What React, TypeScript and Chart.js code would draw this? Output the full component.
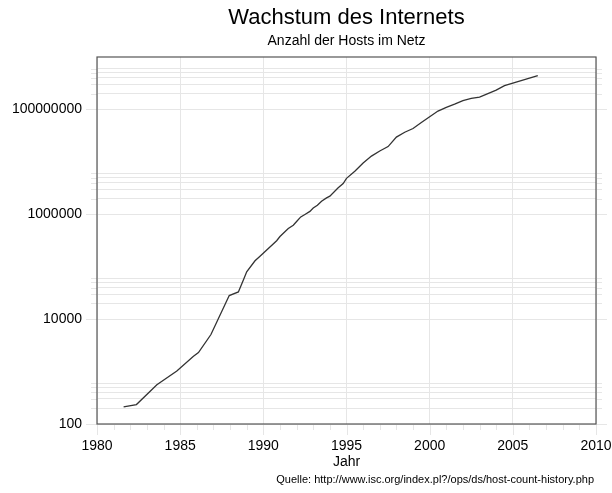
import React, { useEffect, useRef } from "react";
import { Chart, registerables } from "chart.js";

Chart.register(...registerables);

// Data (decimal year, number of hosts)
const years = [
  1981.6, 1982.37, 1983.6, 1984.8, 1985.8, 1986.1, 1986.85, 1987.95, 1988.5, 1988.8,
  1989.0, 1989.5, 1989.8, 1990.8, 1991.0, 1991.5, 1991.8, 1992.0, 1992.25, 1992.5,
  1992.8, 1993.0, 1993.25, 1993.5, 1993.8, 1994.0, 1994.5, 1994.8, 1995.0, 1995.5,
  1996.0, 1996.5, 1997.0, 1997.5, 1998.0, 1998.5, 1999.0, 1999.5, 2000.0, 2000.5,
  2001.0, 2001.5, 2002.0, 2002.5, 2003.0, 2004.0, 2004.5, 2005.0, 2005.5, 2006.0,
  2006.5,
];
const hosts = [
  213, 235, 562, 1024, 1961, 2308, 5089, 28174, 33000, 56000,
  80000, 130000, 159000, 313000, 376000, 535000, 617000, 727000, 890000, 992000,
  1136000, 1313000, 1486000, 1776000, 2056000, 2217000, 3212000, 3864000, 4852000, 6642000,
  9472000, 12881000, 16146000, 19540000, 29670000, 36739000, 43230000, 56218000, 72398092, 93047785,
  109574429, 125888197, 147344723, 162128493, 171638297, 233101481, 285139107, 317646084, 353284187, 394991609,
  439286364,
];

const xTickYears = [1980, 1985, 1990, 1995, 2000, 2005, 2010];
const yLabelValues = [100, 10000, 1000000, 100000000];
const yMinorMultipliers = [2, 3, 4, 5, 6];

const titleText = "Wachstum des Internets";
const subtitleText = "Anzahl der Hosts im Netz";
const xTitleText = "Jahr";
const sourceText = "Quelle: http://www.isc.org/index.pl?/ops/ds/host-count-history.php";

const FONT = "'Liberation Sans', Arial, Helvetica, sans-serif";
const GRID = "#e6e6e6";

const yTickValues: number[] = [];
yLabelValues.forEach((v) => {
  yTickValues.push(v);
  yMinorMultipliers.forEach((m) => yTickValues.push(m * v));
});

const framePlugin = {
  id: "frameAndTexts",
  afterDraw(chart: any) {
    const { ctx, chartArea } = chart;
    const { left, right, top, bottom } = chartArea;
    const xs = chart.scales.x;
    const ys = chart.scales.y;
    ctx.save();
    // outer ticks (y, both sides)
    ctx.strokeStyle = GRID;
    ctx.lineWidth = 1;
    ys.ticks.forEach((t: any) => {
      const py = Math.round(ys.getPixelForValue(t.value)) + 0.5;
      const len = yLabelValues.includes(t.value) ? 11 : 6;
      ctx.beginPath();
      ctx.moveTo(left - len, py);
      ctx.lineTo(left, py);
      ctx.moveTo(right, py);
      ctx.lineTo(right + len, py);
      ctx.stroke();
    });
    // outer ticks (x, below)
    for (let yr = xs.min; yr <= xs.max; yr++) {
      const px = Math.round(xs.getPixelForValue(yr)) + 0.5;
      const len = xTickYears.includes(yr) ? 11 : 6;
      ctx.beginPath();
      ctx.moveTo(px, bottom);
      ctx.lineTo(px, bottom + len);
      ctx.stroke();
    }
    // frame
    ctx.strokeStyle = "#555";
    ctx.lineWidth = 1.2;
    ctx.strokeRect(left, top, right - left, bottom - top);
    // texts
    const cx = (left + right) / 2;
    ctx.fillStyle = "#000";
    ctx.textAlign = "center";
    ctx.textBaseline = "middle";
    ctx.font = `22px ${FONT}`;
    ctx.fillText(titleText, cx, 18);
    ctx.font = `14px ${FONT}`;
    ctx.fillText(subtitleText, cx, 41);
    ctx.fillText(xTitleText, cx, 462);
    ctx.font = `11px ${FONT}`;
    ctx.textAlign = "right";
    ctx.fillText(sourceText, 594, 480);
    ctx.restore();
  },
};

export default function App() {
  const ref = useRef<HTMLCanvasElement | null>(null);
  useEffect(() => {
    if (!ref.current) return;
    const chart = new Chart(ref.current, {
      type: "line",
      data: {
        datasets: [
          {
            data: years.map((x, i) => ({ x, y: hosts[i] })),
            borderColor: "#333",
            borderWidth: 1.3,
            pointRadius: 0,
            tension: 0,
            fill: false,
          },
        ],
      },
      options: {
        animation: false,
        responsive: false,
        maintainAspectRatio: false,
        layout: { padding: { top: 57, right: 16, left: 0, bottom: 0 } },
        plugins: {
          legend: { display: false },
          tooltip: { enabled: false },
          title: { display: false },
        },
        scales: {
          x: {
            type: "linear",
            min: 1980,
            max: 2010,
            afterFit: (s: any) => {
              s.height = 69;
              s.paddingLeft = 0;
              s.paddingRight = 0;
            },
            afterBuildTicks: (s: any) => {
              s.ticks = xTickYears.map((v) => ({ value: v }));
            },
            grid: { color: GRID, drawTicks: false, lineWidth: 1 },
            border: { display: false },
            ticks: {
              autoSkip: false,
              maxRotation: 0,
              padding: 14,
              color: "#000",
              font: { family: FONT, size: 14 },
              callback: (v: any) => String(v),
            },
          },
          y: {
            type: "logarithmic",
            min: 100,
            max: 1000000000,
            afterFit: (s: any) => {
              s.width = 97;
              s.paddingTop = 0;
              s.paddingBottom = 0;
            },
            afterBuildTicks: (s: any) => {
              s.ticks = yTickValues.map((v) => ({ value: v }));
            },
            grid: { color: GRID, drawTicks: false, lineWidth: 1 },
            border: { display: false },
            ticks: {
              autoSkip: false,
              padding: 15,
              color: "#000",
              font: { family: FONT, size: 14 },
              callback: (v: any) => (yLabelValues.includes(Number(v)) ? String(v) : ""),
            },
          },
        },
      },
      plugins: [framePlugin],
    });
    return () => chart.destroy();
  }, []);
  return (
    <div style={{ position: "absolute", left: 0, top: 0, width: 612, height: 493, background: "#fff" }}>
      <canvas ref={ref} width={612} height={493} />
    </div>
  );
}
